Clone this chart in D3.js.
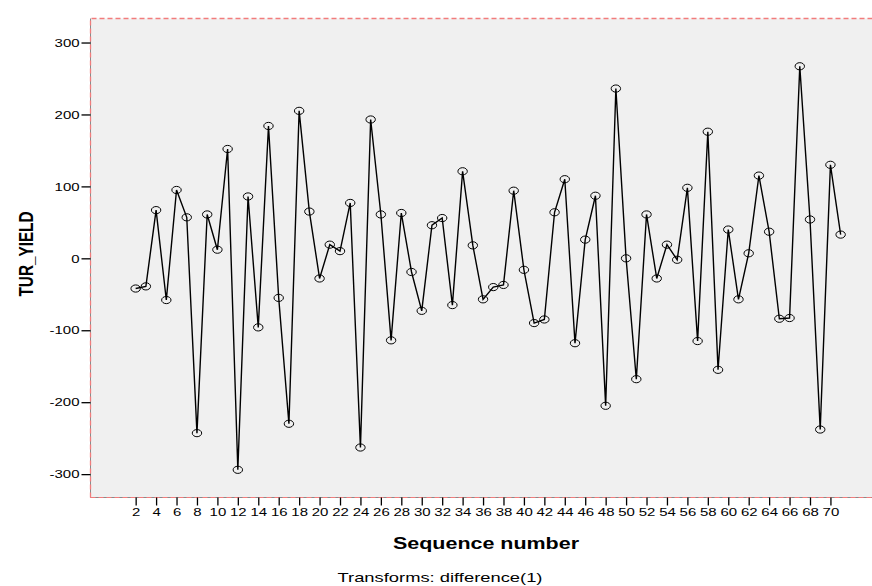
<!DOCTYPE html>
<html>
<head>
<meta charset="utf-8">
<script src="https://cdn.jsdelivr.net/npm/d3@7"></script>
<style>
  body { margin: 0; background: #ffffff; }
  .chart text { font-family: "Liberation Sans", Arial, sans-serif; fill: #000000; }
</style>
</head>
<body>
<div id="chart"></div>
<script>
// Sequence numbers and differenced TUR_YIELD values
var seq_numbers = d3.range(2, 72);
var tur_yield = [
  -42, -39, 67, -58, 95, 57, -243, 61, 12, 152,
  -294, 86, -96, 184, -55, -230, 205, 65, -28, 19,
  10, 77, -263, 193, 61, -114, 63, -19, -73, 46,
  56, -65, 121, 18, -57, -40, -37, 94, -16, -90,
  -85, 64, 110, -118, 26, 87, -205, 236, 0, -168,
  61, -28, 19, -2, 98, -115, 176, -155, 40, -57,
  7, 115, 37, -84, -83, 267, 54, -238, 130, 33
];
var y_tick_values = [-300, -200, -100, 0, 100, 200, 300];
var x_tick_values = d3.range(2, 71, 2);
var y_title = "TUR_YIELD";
var x_title = "Sequence number";
var footnote = "Transforms: difference(1)";

var width_seq_chart  = 872;
var height_seq_chart = 586;
var plot_left   = 90.5;
var plot_top    = 18.5;
var plot_bottom = 497.5;
var plot_right  = 890;
// the original picture is stretched sideways, so glyphs are wider than normal
var stretch_seq_chart = 1.3;

var svg_seq_chart = d3.select("#chart").append("svg")
  .attr("class", "chart")
  .attr("width", width_seq_chart)
  .attr("height", height_seq_chart);

var x_seq_chart = d3.scaleLinear()
  .domain([-2.42, 75.83])
  .range([plot_left, plot_right]);
var y_seq_chart = d3.scaleLinear()
  .domain([-332.5, 333.4])
  .range([plot_bottom, plot_top]);

function widen (sel, factor) {
  sel.each(function () {
    var w = this.getComputedTextLength();
    d3.select(this)
      .attr("textLength", w * factor)
      .attr("lengthAdjust", "spacingAndGlyphs");
  });
}

// plot background
svg_seq_chart.append("rect")
  .attr("x", plot_left)
  .attr("y", plot_top)
  .attr("width", plot_right - plot_left)
  .attr("height", plot_bottom - plot_top)
  .attr("fill", "#f0f0f0");

// gray frame lines on left and bottom, red dashes over them
svg_seq_chart.append("path")
  .attr("d", "M" + plot_left + "," + plot_top + "V" + plot_bottom + "H" + plot_right)
  .attr("fill", "none")
  .attr("stroke", "#8a8a8a")
  .attr("stroke-width", 1);
svg_seq_chart.append("path")
  .attr("d", "M" + plot_left + "," + plot_bottom + "V" + plot_top + "H" + plot_right)
  .attr("fill", "none")
  .attr("stroke", "#f27c7c")
  .attr("stroke-width", 1.3)
  .attr("stroke-dasharray", "5,3");
svg_seq_chart.append("path")
  .attr("d", "M" + plot_left + "," + plot_bottom + "H" + plot_right)
  .attr("fill", "none")
  .attr("stroke", "#f27c7c")
  .attr("stroke-width", 1)
  .attr("stroke-dasharray", "5,3");

// y axis
var axis_y = svg_seq_chart.append("g")
  .attr("transform", "translate(" + plot_left + ",0)")
  .call(d3.axisLeft(y_seq_chart)
    .tickValues(y_tick_values)
    .tickFormat(function (d) { return String(d); })
    .tickSize(9).tickPadding(2));
axis_y.select(".domain").remove();
axis_y.selectAll("line").attr("stroke", "#000").attr("stroke-width", 1.3);
axis_y.selectAll("text").style("font-size", "11.5px").call(widen, stretch_seq_chart);

// x axis
var axis_x = svg_seq_chart.append("g")
  .attr("transform", "translate(0," + plot_bottom + ")")
  .call(d3.axisBottom(x_seq_chart)
    .tickValues(x_tick_values)
    .tickFormat(function (d) { return String(d); })
    .tickSize(8).tickPadding(2.5));
axis_x.select(".domain").remove();
axis_x.selectAll("line").attr("stroke", "#000").attr("stroke-width", 1.3);
axis_x.selectAll("text").style("font-size", "11.5px").call(widen, stretch_seq_chart);

// series line
var line_seq_chart = d3.line()
  .x(function (d, i) { return x_seq_chart(seq_numbers[i]); })
  .y(function (d) { return y_seq_chart(d); });

svg_seq_chart.append("path")
  .datum(tur_yield)
  .attr("d", line_seq_chart)
  .attr("fill", "none")
  .attr("stroke", "#000")
  .attr("stroke-width", 1.4)
  .attr("stroke-linejoin", "miter");

// open markers
svg_seq_chart.append("g").selectAll("ellipse")
  .data(tur_yield)
  .join("ellipse")
  .attr("cx", function (d, i) { return x_seq_chart(seq_numbers[i]); })
  .attr("cy", function (d) { return y_seq_chart(d); })
  .attr("rx", 4.7)
  .attr("ry", 3.6)
  .attr("fill", "none")
  .attr("stroke", "#000")
  .attr("stroke-width", 1);

// titles
svg_seq_chart.append("text")
  .attr("transform", "translate(33,254) rotate(-90) scale(1,1.3)")
  .attr("text-anchor", "middle")
  .style("font-size", "15px")
  .style("font-weight", "bold")
  .attr("textLength", 85)
  .attr("lengthAdjust", "spacingAndGlyphs")
  .text(y_title);

svg_seq_chart.append("text")
  .attr("x", 486)
  .attr("y", 549)
  .attr("text-anchor", "middle")
  .style("font-size", "16px")
  .style("font-weight", "bold")
  .attr("textLength", 186)
  .attr("lengthAdjust", "spacingAndGlyphs")
  .text(x_title);

svg_seq_chart.append("text")
  .attr("x", 440)
  .attr("y", 582)
  .attr("text-anchor", "middle")
  .style("font-size", "13.5px")
  .attr("textLength", 205)
  .attr("lengthAdjust", "spacingAndGlyphs")
  .text(footnote);
</script>
</body>
</html>
